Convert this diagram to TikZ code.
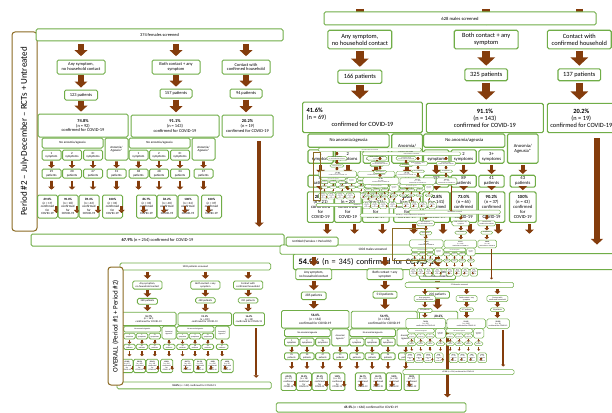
\documentclass[tikz,border=0pt]{standalone}
\usepackage{fontspec}
\setmainfont{Carlito}
\usetikzlibrary{arrows.meta,calc}

\definecolor{boxgreen}{HTML}{70AD47}
\definecolor{flowbrown}{HTML}{843C0C}
\definecolor{sideolive}{HTML}{8B6A22}

\newcommand\pctres[2]{\textbf{#1\%}\\(n = #2)\\confirmed for COVID-19}
\newcommand\pctsub[2]{\textbf{#1\%}\\(n = #2)\\confirmed\\for\\COVID-19}
\newcommand\setsub[2]{\expandafter\def\csname #1\endcsname{#2}}

% keys holding the texts and sizes of one flow chart
\tikzset{
  chart top/.store in=\chTop,
  chart cats/.code n args={3}{\def\chA{#1}\def\chB{#2}\def\chC{#3}},
  chart pats/.code n args={3}{\def\chPa{#1}\def\chPb{#2}\def\chPc{#3}},
  chart res/.code n args={3}{\def\chRa{#1}\def\chRb{#2}\def\chRc{#3}},
  chart subpats/.code n args={8}{\setsub{chQ11}{#1}\setsub{chQ12}{#2}\setsub{chQ13}{#3}\setsub{chQ14}{#4}%
    \setsub{chQ21}{#5}\setsub{chQ22}{#6}\setsub{chQ23}{#7}\setsub{chQ24}{#8}},
  chart subres/.code n args={8}{\setsub{chR11}{#1}\setsub{chR12}{#2}\setsub{chR13}{#3}\setsub{chR14}{#4}%
    \setsub{chR21}{#5}\setsub{chR22}{#6}\setsub{chR23}{#7}\setsub{chR24}{#8}},
  chart tot/.store in=\chTot,
  chart fs/.store in=\chFs,
  chart lw/.store in=\chLw,
  chart bw/.store in=\chBw,
  chart shift/.code 2 args={\def\chSa{#1}\def\chSb{#2}},
  chart ry/.store in=\chRy,
  chart ty/.store in=\chTy,
  chart tot box/.style={},
}
\tikzset{
  chart top={374 females screened},
  chart cats={Any symptom,\\no household contact}{Both contact + any\\symptom}{Contact with\\confirmed household},
  chart pats={123 patients}{157 patients}{94 patients},
  chart res={\pctres{74.8}{92}}{\pctres{91.1}{143}}{\pctres{20.2}{19}},
  chart subpats={25\\patients}{20\\patients}{47\\patients}{31\\patients}{38\\patients}{48\\patients}{34\\patients}{37\\patients},
  chart subres={\pctsub{69.0}{17}}{\pctsub{90.0}{18}}{\pctsub{89.4}{42}}{\pctsub{100}{31}}{\pctsub{86.7}{33}}{\pctsub{84.2}{40}}{\pctsub{100}{34}}{\pctsub{100}{37}},
  chart tot={\textbf{67.9\%} (n = 254) confirmed for COVID-19},
  chart fs=4.4, chart lw=5.5, chart bw=1, chart shift={-4}{8}, chart ry=-177.5, chart ty=-211,
}

\tikzset{
  flow/.pic={
    \pgfmathsetmacro\chBs{1.1*\chFs}
    \pgfmathsetmacro\chFsub{0.72*\chFs}
    \pgfmathsetmacro\chBsub{1.1*\chFsub}
    \pgfmathsetmacro\chSlw{0.5*\chLw}
    \pgfmathsetmacro\chLlw{0.7*\chLw}
    \tikzset{
      box/.style={draw=boxgreen, line width=\chBw, rounded corners=1.5, fill=white, align=center, inner sep=0.2, font=\fontsize{\chFs}{\chBs}\selectfont},
      subbox/.style={box, font=\fontsize{\chFsub}{\chBsub}\selectfont},
      arr/.style={flowbrown, line width=##1, -{Triangle[length=0pt 1.1, width=0pt 2.3]}},
    }
    \coordinate (topb) at (123.5,-12);
    \ifx\chTop\empty\else
      \node[box, minimum width=247, minimum height=12] (top) at (123.5,-6) {\chTop};
    \fi
    \node[box, minimum width=48, minimum height=14] (ca) at (45,-38) {\chA};
    \node[box, minimum width=48, minimum height=14] (cb) at (140,-38) {\chB};
    \node[box, minimum width=48, minimum height=14] (cc) at (210,-38) {\chC};
    \node[box, minimum width=33, minimum height=10] (pa) at (45,-66) {\chPa};
    \node[box, minimum width=32, minimum height=9] (pb) at (140,-64.5) {\chPb};
    \node[box, minimum width=32, minimum height=9] (pc) at (210,-64.5) {\chPc};
    \node[box, minimum width=90, minimum height=23] (ra) at (47,-96.5) {\chRa};
    \node[box, minimum width=88, minimum height=22] (rb) at (139,-97) {\chRb};
    \node[box, minimum width=51, minimum height=22] (rc) at (211.5,-97) {\chRc};
    \node[box, minimum width=253, minimum height=12, chart tot box] (tot) at (121.5,\chTy) {\chTot};
    \foreach \n in {a,b,c}{
      \draw[arr=\chLw] ($(topb -| c\n)!.16!(c\n.north)$) -- ($(topb -| c\n)!.82!(c\n.north)$);
      \draw[arr=\chLw] ($(c\n.south)!.06!(p\n.north)$) -- ($(c\n.south)!.87!(p\n.north)$);
      \draw[arr=\chLw] ($(p\n.south)!.07!(p\n.south |- r\n.north)$) -- ($(p\n.south)!.86!(p\n.south |- r\n.north)$);
    }
    % the two anosmia groups
    \foreach \g/\ox/\rs in {1/0/\chSa, 2/87/\chSb}{
      \node[subbox, minimum width=61, minimum height=10] (no\g) at (36.5+\ox,-114) {No anosmia/ageusia};
      \node[subbox, minimum width=23, minimum height=22] (s\g4) at (80.5+\ox,-120) {Anosmia/\\Ageusia*};
      \foreach \k/\cx/\t in {1/15.5/{1\\symptom}, 2/36/{2\\symptoms}, 3/57/{3+\\symptoms}}{
        \node[subbox, minimum width=19, minimum height=10] (s\g\k) at (\cx+\ox,-126) {\t};
      }
      \foreach \k/\cx in {1/15.5, 2/36, 3/57, 4/80.5}{
        \node[subbox, minimum width=19, minimum height=9] (q\g\k) at (\cx+\ox,-144.5) {\csname chQ\g\k\endcsname};
        \node[subbox, minimum width=20, minimum height=23] (r\g\k) at (\cx+\ox+\rs,\chRy) {\csname chR\g\k\endcsname};
        \draw[arr=\chSlw] ($(s\g\k.south)!.1!(q\g\k.north)$) -- ($(s\g\k.south)!.95!(q\g\k.north)$);
        \draw[arr=\chSlw] ($(q\g\k.south)!.15!(q\g\k.south |- r\g\k.north)$) -- ($(q\g\k.south)!.7!(q\g\k.south |- r\g\k.north)$);
        \coordinate (e\g\k) at (\cx+\ox+5,-177);
        \draw[arr=\chSlw] (e\g\k) -- ++(0,-7);
      }
    }
    \coordinate (lx) at ($(rc.south east)!.55!(rc.south)$);
    \draw[arr=\chLlw] ($(lx)!.04!(lx |- tot.north)$) -- ($(lx)!.93!(lx |- tot.north)$);
  },
  sidelabel/.style={draw=sideolive, line width=1, rounded corners=3, fill=white, rotate=90},
  gbox/.style={draw=boxgreen, line width=1, rounded corners=1.5, fill=white, align=center, inner sep=0.3},
}

\begin{document}
\begin{tikzpicture}[x=1pt, y=1pt]
  \useasboundingbox (0,0) rectangle (612,-412);
  \fill[white] (0,0) rectangle (612,-412);

  % Period #2, females
  \node[sidelabel, minimum width=199, minimum height=25, font=\fontsize{9}{10}\selectfont] (femlabel) at (24.5,-131.5) {Period \#2 -- July-December -- RCTs + Untreated};
  \pic (fem) at (36,-29) {flow};

  % overall
  \pic[xscale=.61, yscale=.58, transform shape, chart lw=3.2, chart bw=.8,
    chart top={1002 patients screened},
    chart pats={289 patients}{482 patients}{231 patients},
    chart res={\pctres{55.7}{161}}{\pctres{91.1}{439}}{\pctres{16.9}{39}},
    chart tot={\textbf{59.8\%} (n = 599) confirmed for COVID-19}] (all) at (120,-263) {flow};
  \node[sidelabel, minimum width=118, minimum height=15, font=\fontsize{7}{8}\selectfont] (alllabel) at (115.5,-326) {OVERALL (Period \#1 + Period \#2)};

  % males
  \pic[scale=1.33, transform shape, chart top={}, chart fs=4.8, chart lw=7.5, chart bw=1.1,
    chart pats={166 patients}{325 patients}{137 patients},
    chart res={\makebox[84pt][l]{\textbf{41.6\%}}\\\makebox[84pt][l]{(n = 69)}\\confirmed for COVID-19}{\pctres{91.1}{143}}{\pctres{20.2}{19}},
    chart subpats={74\\patients}{46\\patients}{29\\patients}{17\\patients}{152\\patients}{89\\patients}{41\\patients}{43\\patients},
    chart subres={\pctsub{28.4}{21}}{\pctsub{43.5}{20}}{\pctsub{37.9}{11}}{\pctsub{100}{17}}{\pctsub{92.8}{141}}{\pctsub{73.0}{65}}{\pctsub{90.2}{37}}{\pctsub{100}{43}},
    chart shift={0}{0}, chart ry=-164, chart ty=-205,
    chart tot={\textbf{54.9\%} (n = 345) confirmed for COVID-19},
    chart tot box/.style={font=\fontsize{6.2}{7.4}\selectfont, text width=245, align=left}] (male) at (300,11) {flow};
  \node[gbox, minimum width=272, minimum height=13, font=\fontsize{4.6}{5.5}\selectfont] (malescreen) at (460,-18.5) {628 males screened};

  % males, all periods
  \pic[xscale=.75, yscale=.77, transform shape, chart lw=4.2, chart bw=.9,
    chart top={1003 males screened},
    chart pats={285 patients}{513 patients}{205 patients},
    chart res={\pctres{56.0}{162}}{\pctres{54.9}{162}}{\pctres{20.2}{41}},
    chart tot={\textbf{65.5\%} (n = 660) confirmed for COVID-19}] (allmale) at (280,-245) {flow};

  % small copies on top
  \pic[xscale=.37, yscale=.35, transform shape, chart lw=2, chart bw=.5] (mini) at (409,-210) {flow};
  \draw[sideolive, line width=1] (392,-228) rectangle (425,-260);
  \pic[xscale=.44, yscale=.425, transform shape, chart lw=2.4, chart bw=.5] (small) at (405,-282.4) {flow};
  \pic[xscale=.42, yscale=.27, transform shape, chart lw=1.6, chart bw=.4] (tinya) at (318,-148) {flow};
  \draw[sideolive, line width=.8] (313,-152) rectangle (320,-200);
  \pic[xscale=.4, yscale=.3, transform shape, chart lw=1.6, chart bw=.4] (tinyb) at (362,-152) {flow};

  \node[gbox, minimum width=52, minimum height=9, font=\fontsize{3.2}{4}\selectfont] (untitled) at (312,-241.5) {Untitled (Females + Period \#2)};
\end{tikzpicture}
\end{document}
